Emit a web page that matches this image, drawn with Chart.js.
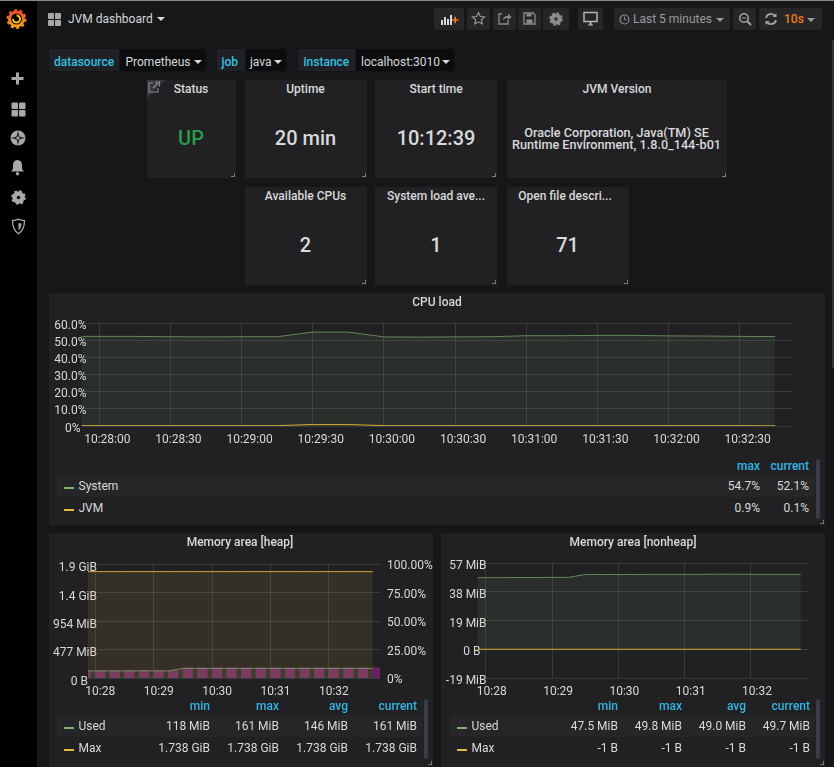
<!DOCTYPE html>
<html>
<head>
<meta charset="utf-8">
<title>JVM dashboard</title>
<script src="https://cdn.jsdelivr.net/npm/chart.js@4/dist/chart.umd.min.js"></script>
<style>
  html, body { margin: 0; background: #161719; overflow: hidden; }
  #app { position: relative; width: 834px; height: 767px; overflow: hidden; font-family: Roboto, sans-serif; font-size: 12px; color: #d8d9da; }
  #app > * { position: absolute; }
  .side { left: 0; top: 0; width: 37px; height: 767px; background: #000; }
  .topline { left: 0; top: 0; width: 834px; height: 1px; background: #8a8a8a; }
  .thumb { left: 832px; top: 40px; width: 2px; height: 328px; background: #343436; }
  .panel { background: #212124; }
  .corner { width: 3px; height: 3px; border-right: 1px solid #77787a; border-bottom: 1px solid #77787a; }
  .btn { background: #262628; border-radius: 2px; }
  .varl { background: #1f2124; border: 1px solid #141518; box-sizing: border-box; }
  .varv { background: #0b0c0e; border: 1px solid #141518; box-sizing: border-box; }
  .t { white-space: nowrap; transform: translateY(-50%); }
  .c { white-space: nowrap; transform: translate(-50%, -50%); }
  .r { white-space: nowrap; transform: translate(-100%, -50%); }
  .b { font-weight: 500; }
  .blue { color: #33b5e5; font-weight: 500; }
  .row { background: #262628; }
  .scroll { background: #3b3b47; border-radius: 2px; }
  .caret { width: 0; height: 0; border-left: 4px solid transparent; border-right: 4px solid transparent; border-top: 4px solid currentColor; }
  canvas { display: block; }
</style>
</head>
<body>
<div id="app">
  <div class="side"></div>
  <div class="topline"></div>
  <div class="thumb"></div>

  <svg style="left:5px;top:7px" width="24" height="24" viewBox="0 0 24 24">
    <defs><linearGradient id="lg" x1="0" y1="0" x2="0" y2="1"><stop offset="0" stop-color="#ee4e2a"/><stop offset="1" stop-color="#f9a11a"/></linearGradient></defs>
    <circle cx="11.500" cy="12" r="7" fill="none" stroke="url(#lg)" stroke-width="3"/>
    <circle cx="11.500" cy="12" r="9" fill="none" stroke="url(#lg)" stroke-width="2" stroke-dasharray="3 2.650"/>
    <path d="M11.500 8.500a3.500 3.500 0 1 1-3.500 3.500" fill="none" stroke="#fbc60e" stroke-width="2"/>
  </svg>
  <svg style="left:10px;top:71px" width="15" height="15" viewBox="0 0 15 15"><path d="M6 1.500h3v4.500h4.500v3H9v4.500H6V9H1.500V6H6z" fill="#a9a9aa"/></svg>
  <svg style="left:11px;top:102px" width="15" height="15" viewBox="0 0 15 15" fill="#a9a9aa"><rect x="0.500" y="0.500" width="6.500" height="6.500" rx="1"/><rect x="8" y="0.500" width="6.500" height="6.500" rx="1"/><rect x="0.500" y="8" width="6.500" height="6.500" rx="1"/><rect x="8" y="8" width="6.500" height="6.500" rx="1"/></svg>
  <svg style="left:10px;top:130px" width="16" height="16" viewBox="0 0 16 16"><circle cx="8" cy="8" r="7.500" fill="#a9a9aa"/><path d="M8 0.800l1.500 5.700 5.700 1.500-5.700 1.500L8 15.200 6.500 9.500 0.800 8l5.700-1.500z" fill="#2a2a2b"/><circle cx="8" cy="8" r="1.500" fill="#a9a9aa"/></svg>
  <svg style="left:10px;top:159px" width="15" height="17" viewBox="0 0 15 17"><path d="M7.500 1c3 0 4.500 2.200 4.500 5v4l2 2.500H1L3 10V6c0-2.800 1.500-5 4.500-5z" fill="#a9a9aa"/><circle cx="7.500" cy="14.800" r="1.700" fill="#a9a9aa"/></svg>
  <svg style="left:11px;top:190px" width="15" height="15" viewBox="0 0 15 15"><circle cx="7.500" cy="7.500" r="4" fill="none" stroke="#a9a9aa" stroke-width="4.500"/><circle cx="7.500" cy="7.500" r="6.300" fill="none" stroke="#a9a9aa" stroke-width="2" stroke-dasharray="2.500 2.450"/></svg>
  <svg style="left:11px;top:218px" width="15" height="17" viewBox="0 0 15 17"><path d="M7.500 1.200c2 1 4 1.400 6 1.500 0 5.500-1.700 10-6 13-4.300-3-6-7.500-6-13 2-.1 4-.5 6-1.500z" fill="none" stroke="#a9a9aa" stroke-width="1.300"/><path d="M7.500 5l3 .6c0 3-1 5.200-3 6.800z" fill="#a9a9aa"/></svg>

  <svg style="left:48px;top:13px" width="13" height="13" viewBox="0 0 13 13" fill="#a9a9aa"><rect width="6" height="6" rx="1"/><rect x="7" width="6" height="6" rx="1"/><rect y="7" width="6" height="6" rx="1"/><rect x="7" y="7" width="6" height="6" rx="1"/></svg>

  <div class="btn" style="left:434px;top:8px;width:30px;height:22px"></div>
  <div class="btn" style="left:467px;top:8px;width:23px;height:22px"></div>
  <div class="btn" style="left:493px;top:8px;width:23px;height:22px"></div>
  <div class="btn" style="left:518px;top:8px;width:23px;height:22px"></div>
  <div class="btn" style="left:543px;top:8px;width:26px;height:22px"></div>
  <div class="btn" style="left:578px;top:8px;width:25px;height:22px"></div>
  <div class="btn" style="left:614px;top:8px;width:116px;height:22px"></div>
  <div class="btn" style="left:733px;top:8px;width:23px;height:22px"></div>
  <div class="btn" style="left:759px;top:8px;width:63px;height:22px"></div>

  <svg style="left:440px;top:12px" width="20" height="14" viewBox="0 0 20 14"><path d="M1 8h2v5H1zM4 5h2v8H4zM7 7h2v6H7zM10 3h2v10h-2z" fill="#d8d9da"/><path d="M15 4h2v3h3v2h-3v3h-2V9h-3V7h3z" fill="#eb7b18" transform="scale(.8) translate(3 2)"/></svg>
  <svg style="left:471px;top:11px" width="15" height="15" viewBox="0 0 15 15"><path d="M7.500 1.500l1.800 4 4.300.4-3.300 2.900 1 4.200-3.800-2.200-3.800 2.200 1-4.200L1.400 5.900l4.300-.4z" fill="none" stroke="#9a9a9c" stroke-width="1.100"/></svg>
  <svg style="left:497px;top:11px" width="15" height="15" viewBox="0 0 15 15"><path d="M5 3H2v10h9V9" fill="none" stroke="#8b8b8d" stroke-width="1.300"/><path d="M6 9c0-3 2-4 5-4V2.500L14.500 6 11 9V7c-2 0-4 .5-5 2z" fill="#8b8b8d"/></svg>
  <svg style="left:522px;top:11px" width="15" height="15" viewBox="0 0 15 15"><path d="M2 2h9l2 2v9H2z" fill="none" stroke="#8b8b8d" stroke-width="1.300"/><path d="M4.500 2.500h5v3h-5zM4.500 8.500h6v4h-6z" fill="#8b8b8d"/></svg>
  <svg style="left:549px;top:12px" width="14" height="14" viewBox="0 0 15 15"><circle cx="7.500" cy="7.500" r="4" fill="none" stroke="#8b8b8d" stroke-width="4.500"/><circle cx="7.500" cy="7.500" r="6.300" fill="none" stroke="#8b8b8d" stroke-width="2" stroke-dasharray="2.500 2.450"/></svg>
  <svg style="left:583px;top:11px" width="15" height="15" viewBox="0 0 15 15"><path d="M1 1.500h13v9H1z" fill="none" stroke="#b5b5b7" stroke-width="1.500"/><path d="M5 13.500h5v1H5zM6.500 10.500h2v3h-2z" fill="#b5b5b7"/></svg>
  <svg style="left:619px;top:14px" width="11" height="11" viewBox="0 0 11 11"><circle cx="5.500" cy="5.500" r="4.500" fill="none" stroke="#8b8b8d" stroke-width="1.200"/><path d="M5.500 2.500v3h2" fill="none" stroke="#8b8b8d"/></svg>
  <svg style="left:738px;top:12px" width="14" height="14" viewBox="0 0 14 14"><circle cx="6" cy="6" r="4.300" fill="none" stroke="#a3a3a5" stroke-width="1.600"/><path d="M9 9l4 4" stroke="#a3a3a5" stroke-width="2"/><path d="M4 6h4" stroke="#a3a3a5"/></svg>
  <svg style="left:764px;top:12px" width="14" height="14" viewBox="0 0 14 14"><path d="M2 6a5 5 0 0 1 9-2M12 8a5 5 0 0 1-9 2" fill="none" stroke="#a3a3a5" stroke-width="1.800"/><path d="M12.500 1v4h-4zM1.500 13V9h4z" fill="#a3a3a5"/></svg>

  <div class="varl" style="left:48px;top:48px;width:72px;height:24px"></div>
  <div class="varv" style="left:119px;top:48px;width:87px;height:24px"></div>
  <div class="varl" style="left:216px;top:48px;width:30px;height:24px"></div>
  <div class="varv" style="left:245px;top:48px;width:42px;height:24px"></div>
  <div class="varl" style="left:297px;top:48px;width:59px;height:24px"></div>
  <div class="varv" style="left:355px;top:48px;width:100px;height:24px"></div>

  <div class="panel" style="left:147px;top:80px;width:89px;height:98px"></div>
  <div class="panel" style="left:245px;top:80px;width:122px;height:98px"></div>
  <div class="panel" style="left:375px;top:80px;width:122px;height:98px"></div>
  <div class="panel" style="left:507px;top:80px;width:220px;height:98px"></div>
  <div class="panel" style="left:245px;top:187px;width:122px;height:98px"></div>
  <div class="panel" style="left:375px;top:187px;width:122px;height:98px"></div>
  <div class="panel" style="left:507px;top:187px;width:122px;height:98px"></div>
  <div class="panel" style="left:49px;top:293px;width:776px;height:232px"></div>
  <div class="panel" style="left:49px;top:533px;width:384px;height:234px"></div>
  <div class="panel" style="left:441px;top:533px;width:384px;height:234px"></div>

  <div class="corner" style="left:231px;top:173px"></div>
  <div class="corner" style="left:362px;top:173px"></div>
  <div class="corner" style="left:492px;top:173px"></div>
  <div class="corner" style="left:722px;top:173px"></div>
  <div class="corner" style="left:362px;top:280px"></div>
  <div class="corner" style="left:492px;top:280px"></div>
  <div class="corner" style="left:624px;top:280px"></div>
  <div class="corner" style="left:820px;top:520px"></div>
  <div class="corner" style="left:428px;top:761px"></div>
  <div class="corner" style="left:820px;top:761px"></div>

  <svg style="left:147px;top:80px" width="20" height="18" viewBox="0 0 20 18"><path d="M0 0h18L0 18z" fill="#38393c"/><path d="M6 3H2v9h9V8" fill="none" stroke="#8f8f91" stroke-width="1.100"/><path d="M6 8l5-5M8 2h4.500v4.500" fill="none" stroke="#8f8f91" stroke-width="1.100"/></svg>

  <canvas id="cpuChart" width="776" height="160" style="left:49px;top:293px"></canvas>
  <canvas id="heapChart" width="384" height="170" style="left:49px;top:533px"></canvas>
  <canvas id="nonheapChart" width="384" height="170" style="left:441px;top:533px"></canvas>
</div>

<script>
// sampled every 15s, the panel range starts just after the first one
const times = ['10:27:45', '10:28:00', '10:28:15', '10:28:30', '10:28:45', '10:29:00', '10:29:15',
  '10:29:30', '10:29:45', '10:30:00', '10:30:15', '10:30:30', '10:30:45', '10:31:00',
  '10:31:15', '10:31:30', '10:31:45', '10:32:00', '10:32:15', '10:32:30', '10:32:45'];
const rangeStart = '10:27:52.5';
const rangeEnd = '10:32:52.5';

const cpuSystem = [52.2, 52.2, 52.2, 52.0, 51.9, 52.0, 52.0, 54.7, 54.7, 51.9, 51.8, 51.9, 52.0, 52.6, 52.6, 52.8, 52.8, 52.5, 52.4, 52.2, 52.1];
const cpuJvm = [0.2, 0.2, 0.2, 0.2, 0.2, 0.2, 0.2, 0.9, 0.9, 0.2, 0.2, 0.2, 0.2, 0.2, 0.2, 0.2, 0.2, 0.2, 0.2, 0.2, 0.1];
const cpuXTicks = ['10:28:00', '10:28:30', '10:29:00', '10:29:30', '10:30:00', '10:30:30', '10:31:00', '10:31:30', '10:32:00', '10:32:30'];
const cpuYTicks = [0, 10, 20, 30, 40, 50, 60];
const cpuYLabels = ['0%  ', '10.0%', '20.0%', '30.0%', '40.0%', '50.0%', '60.0%'];

const heapUsed = [118, 118, 118, 118, 119, 119, 119, 161, 161, 161, 161, 161, 161, 161, 161, 161, 161, 161, 161, 161, 161];
const heapMax = [1779.7, 1779.7, 1779.7, 1779.7, 1779.7, 1779.7, 1779.7, 1779.7, 1779.7, 1779.7, 1779.7, 1779.7, 1779.7, 1779.7, 1779.7, 1779.7, 1779.7, 1779.7, 1779.7, 1779.7, 1779.7];
const heapPercent = [6.6, 6.6, 6.6, 6.6, 6.7, 6.7, 6.7, 9.0, 9.0, 9.0, 9.0, 9.0, 9.0, 9.0, 9.0, 9.0, 9.0, 9.0, 9.0, 9.0, 9.0];
const heapYTicks = [0, 476.84, 953.67, 1430.51, 1907.35];
const heapYLabels = ['0 B   ', '477 MiB', '954 MiB', '1.4 GiB', '1.9 GiB'];
const heapPercentTicks = [0, 25, 50, 75, 100];
const heapPercentLabels = ['0%', '25.00%', '50.00%', '75.00%', '100.00%'];

const nonheapUsed = [47.5, 47.5, 47.5, 47.6, 47.6, 47.7, 47.7, 49.6, 49.6, 49.6, 49.6, 49.7, 49.7, 49.7, 49.7, 49.8, 49.8, 49.7, 49.7, 49.7, 49.7];
const nonheapMax = [0, 0, 0, 0, 0, 0, 0, 0, 0, 0, 0, 0, 0, 0, 0, 0, 0, 0, 0, 0, 0];
const nonheapYTicks = [-19.07, 0, 19.07, 38.15, 57.22];
const nonheapYLabels = ['-19 MiB', '0 B  ', '19 MiB', '38 MiB', '57 MiB'];
const minuteTicks = ['10:28', '10:29', '10:30', '10:31', '10:32'];

const GREEN = '#7eb26d';
const YELLOW = '#eab839';
const PURPLE = '#6d1f62';
const GRID = 'rgba(255,255,255,0.11)';
const TEXT = '#d8d9da';

Chart.defaults.font.family = 'Roboto';
Chart.defaults.font.size = 12;
Chart.defaults.color = TEXT;

function secs(label) {
  const p = label.split(':');
  return +p[0] * 3600 + +p[1] * 60 + parseFloat(p[2] || 0);
}

function points(values, shift) {
  return times.map((t, i) => ({ x: secs(t) + (shift || 0), y: values[i] }));
}

function lineSet(label, values, color, order) {
  return {
    type: 'line',
    label: label,
    data: points(values),
    borderColor: color + (color === YELLOW ? 'e0' : 'b0'),
    backgroundColor: color + '1a',
    borderWidth: 1,
    pointRadius: 0,
    tension: 0,
    fill: 'origin',
    order: order,
    yAxisID: 'y',
  };
}

function yAxis(values, labels, width, padding, offset) {
  return {
    min: values[0],
    max: values[values.length - 1],
    grid: { color: GRID, drawTicks: false },
    border: { display: false },
    afterBuildTicks: (s) => { s.ticks = values.map((v) => ({ value: v })); },
    afterFit: (s) => {
      s.width = width;
      // the labels run over the plot edge, chart.js would clip them to the axis box
      s._computeLabelArea = () => undefined;
    },
    ticks: {
      padding: padding,
      labelOffset: offset,
      autoSkip: false,
      color: TEXT,
      callback: (v) => labels[values.indexOf(v)],
    },
  };
}

function xAxis(tickLabels, labelOffset, height, padding) {
  const values = tickLabels.map(secs);
  return {
    type: 'linear',
    min: secs(rangeStart),
    max: secs(rangeEnd),
    offset: false,
    grid: { color: GRID, drawTicks: false, offset: false },
    border: { display: false },
    afterBuildTicks: (s) => { s.ticks = values.map((v) => ({ value: v })); },
    afterFit: (s) => { s.height = height; },
    ticks: {
      padding: padding,
      labelOffset: labelOffset,
      maxRotation: 0,
      autoSkip: false,
      color: TEXT,
      callback: (v) => tickLabels[values.indexOf(v)],
    },
  };
}

function baseOptions(scales, padding) {
  return {
    responsive: false,
    animation: false,
    devicePixelRatio: 1,
    layout: { autoPadding: false, padding: padding },
    plugins: { legend: { display: false }, tooltip: { enabled: false } },
    scales: scales,
  };
}

new Chart(document.getElementById('cpuChart'), {
  type: 'line',
  data: {
    datasets: [
      lineSet('System', cpuSystem, GREEN, 2),
      lineSet('JVM', cpuJvm, YELLOW, 1),
    ],
  },
  options: baseOptions({
    x: xAxis(cpuXTicks, 8, 27, 6.5),
    y: yAxis(cpuYTicks, cpuYLabels, 32.5, -5, 2.5),
  }, { top: 30, right: 32, bottom: 0, left: 0 }),
});

new Chart(document.getElementById('heapChart'), {
  type: 'line',
  data: {
    datasets: [
      // left aligned bars in the original, so shifted by half of their 10s width
      {
        type: 'bar',
        label: 'Used %',
        data: points(heapPercent, 5),
        backgroundColor: PURPLE,
        barThickness: 9.7,
        order: 3,
        yAxisID: 'y1',
      },
      lineSet('Max', heapMax, YELLOW, 2),
      lineSet('Used', heapUsed, GREEN, 1),
    ],
  },
  options: baseOptions({
    x: xAxis(minuteTicks, 5, 25, 7),
    y: yAxis(heapYTicks, heapYLabels, 39, -9, 4),
    y1: Object.assign(yAxis(heapPercentTicks, heapPercentLabels, 53, 7, 2), {
      position: 'right',
      grid: { display: false, drawTicks: false },
    }),
  }, { top: 31, right: 0, bottom: 0, left: 0 }),
});

new Chart(document.getElementById('nonheapChart'), {
  type: 'line',
  data: {
    datasets: [
      lineSet('Used', nonheapUsed, GREEN, 2),
      lineSet('Max', nonheapMax, YELLOW, 1),
    ],
  },
  options: baseOptions({
    x: xAxis(minuteTicks, 6, 25, 7),
    y: yAxis(nonheapYTicks, nonheapYLabels, 36.5, -9, 3),
  }, { top: 30, right: 16, bottom: 0, left: 0 }),
});

// page chrome and legend tables
const app = document.getElementById('app');

function put(x, y, text, cls, style) {
  const el = document.createElement('div');
  el.className = cls;
  el.textContent = text;
  el.style.left = x + 'px';
  el.style.top = y + 'px';
  if (style) el.style.cssText += style;
  app.appendChild(el);
}

function box(x, y, w, h, cls, style) {
  const el = document.createElement('div');
  el.className = cls;
  el.style.cssText = 'left:' + x + 'px;top:' + y + 'px;width:' + w + 'px;height:' + h + 'px;' + (style || '');
  app.appendChild(el);
}

function caret(x, y, color) {
  const el = document.createElement('div');
  el.className = 'caret';
  el.style.cssText = 'left:' + x + 'px;top:' + y + 'px;color:' + color;
  app.appendChild(el);
}

put(68, 18.5, 'JVM dashboard', 't');
caret(157, 17, '#d8d9da');
put(633, 18.5, 'Last 5 minutes', 't', 'color:#9a9a9c');
caret(716, 18, '#9a9a9c');
put(784, 18.5, '10s', 't b', 'color:#eb7b18');
caret(807, 18, '#9a9a9c');

const CYAN = 'color:#33c0e0';
put(54, 62, 'datasource', 't b', CYAN);
put(125.5, 62, 'Prometheus', 't');
caret(194, 60, '#d8d9da');
put(221.5, 62, 'job', 't b', CYAN);
put(250, 62, 'java', 't');
caret(274, 60, '#d8d9da');
put(303.5, 62, 'instance', 't b', CYAN);
put(361, 62, 'localhost:3010', 't');
caret(442, 60, '#d8d9da');

const statTitles = ['Status', 'Uptime', 'Start time', 'JVM Version', 'Available CPUs', 'System load ave...', 'Open file descri...'];
const statValues = ['UP', '20 min', '10:12:39', '', '2', '1', '71'];
const statTitleCenters = [191, 305.5, 436, 617, 305.5, 436, 565];
const statCenters = [191, 305.5, 436, 617, 305.5, 436, 567.5];
const statRows = [88.5, 88.5, 88.5, 88.5, 195.5, 195.5, 195.5];
statTitles.forEach((title, i) => {
  put(statTitleCenters[i], statRows[i], title, 'c b');
  put(statCenters[i], statRows[i] + 49.5, statValues[i], 'c b',
    'font-size:20px;color:' + (i === 0 ? '#299c46' : '#d8d9da'));
});
put(616.5, 131.5, 'Oracle Corporation, Java(TM) SE', 'c b', 'font-size:12.65px');
put(616.5, 143.5, 'Runtime Environment, 1.8.0_144-b01', 'c b', 'font-size:12.65px');

put(437, 301.5, 'CPU load', 'c b');
put(240, 541.5, 'Memory area [heap]', 'c b');
put(633, 541.5, 'Memory area [nonheap]', 'c b');

function legend(t) {
  t.headers.forEach((h, i) => put(t.columns[i], t.top - 9, h, 'r blue'));
  box(t.left, t.top, t.right - t.left, 22, 'row');
  t.rows.forEach((row, r) => {
    const y = t.top + 11 + r * 22;
    box(t.left + 7, y + 1, 10, 2, '', 'background:' + row.color);
    put(t.left + 21.5, y, row.name, 't');
    row.values.forEach((v, i) => put(t.columns[i], y, v, 'r'));
  });
  box(t.right + 1, t.top - 16, 4, 60, 'scroll');
}

legend({
  top: 475, left: 57, right: 815,
  headers: ['max', 'current'], columns: [760, 809],
  rows: [
    { name: 'System', color: GREEN, values: ['54.7%', '52.1%'] },
    { name: 'JVM', color: YELLOW, values: ['0.9%', '0.1%'] },
  ],
});
legend({
  top: 715, left: 57, right: 423,
  headers: ['min', 'max', 'avg', 'current'], columns: [210, 279, 348, 417],
  rows: [
    { name: 'Used', color: GREEN, values: ['118 MiB', '161 MiB', '146 MiB', '161 MiB'] },
    { name: 'Max', color: YELLOW, values: ['1.738 GiB', '1.738 GiB', '1.738 GiB', '1.738 GiB'] },
  ],
});
legend({
  top: 715, left: 450, right: 815,
  headers: ['min', 'max', 'avg', 'current'], columns: [618, 682, 746, 810],
  rows: [
    { name: 'Used', color: GREEN, values: ['47.5 MiB', '49.8 MiB', '49.0 MiB', '49.7 MiB'] },
    { name: 'Max', color: YELLOW, values: ['-1 B', '-1 B', '-1 B', '-1 B'] },
  ],
});
</script>
</body>
</html>
